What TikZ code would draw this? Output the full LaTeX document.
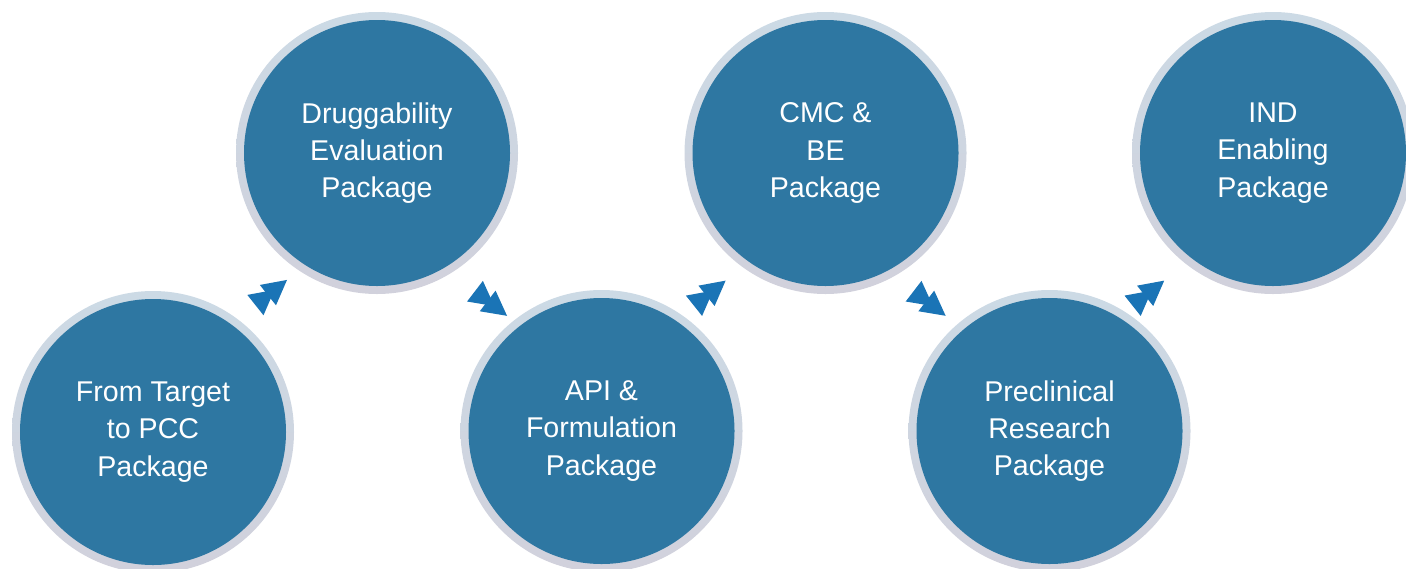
\documentclass[tikz,border=0pt]{standalone}
\usepackage{fontspec}
\setmainfont{Liberation Sans}
\definecolor{fillblue}{HTML}{2E77A2}
\definecolor{ringL}{HTML}{CCDAE5}
\definecolor{ringR}{HTML}{D1D1DC}
\definecolor{arrowcol}{HTML}{1A74B6}
\tikzset{
  pkg/.style={circle, minimum size=141pt, inner sep=0pt, outer sep=0pt,
    left color=ringL, right color=ringR, shading angle=0,
    path picture={\fill[fillblue] (path picture bounding box.center) circle (66.5pt);},
    text=white, align=center,
    font=\fontsize{14.3pt}{18.7pt}\selectfont},
  twinarrow/.pic={
    \fill[arrowcol] (-20.2,13) -- (4.2,0) -- (-20.2,-13) -- cycle;
    \fill[arrowcol] (-4.2,13) -- (20.2,0) -- (-4.2,-13) -- cycle;
  }
}
\begin{document}
\begin{tikzpicture}[x=0.5pt,y=-0.5pt]
\useasboundingbox (0,0) rectangle (1406,568);
\node[pkg] (c1) at (153,432) {From Target\\to PCC\\Package};
\node[pkg] (c2) at (377,153) {Druggability\\Evaluation\\Package};
\node[pkg] (c3) at (601.5,431) {API \&\\Formulation\\Package};
\node[pkg] (c4) at (825.5,153) {CMC \&\\BE\\Package};
\node[pkg] (c5) at (1049.5,431) {Preclinical\\Research\\Package};
\node[pkg] (c6) at (1273,153) {IND\\Enabling\\Package};
\coordinate (a1) at (271.2,292.5);
\coordinate (a2) at (491,303.5);
\coordinate (a3) at (709.8,293.2);
\coordinate (a4) at (929.6,303.5);
\coordinate (a5) at (1148.4,293.2);
\pic[rotate=38.5] at (a1) {twinarrow};
\pic[rotate=-37.5] at (a2) {twinarrow};
\pic[rotate=38.5] at (a3) {twinarrow};
\pic[rotate=-37.5] at (a4) {twinarrow};
\pic[rotate=38.5] at (a5) {twinarrow};
\end{tikzpicture}
\end{document}
